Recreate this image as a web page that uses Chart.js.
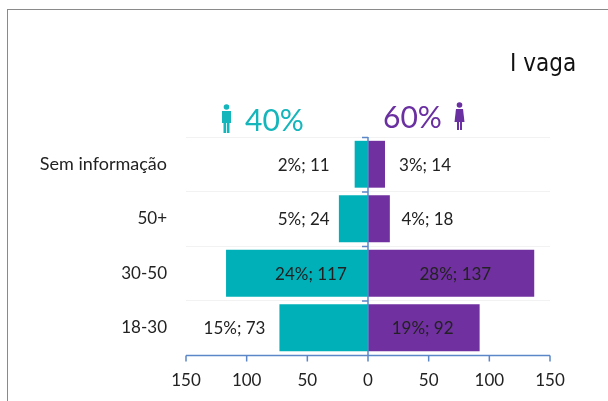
<!DOCTYPE html>
<html>
<head>
<meta charset="utf-8">
<script src="https://cdn.jsdelivr.net/npm/chart.js@4"></script>
<style>
  html, body { margin: 0; padding: 0; background: #fff; }
  #wrap { position: relative; width: 608px; height: 401px; overflow: hidden; }
  #frame { position: absolute; left: 7px; top: 9px; width: 620px; height: 420px; border: 1px solid #8a8a8a; }
  canvas { position: absolute; left: 0; top: 0; }
  .note { position: absolute; white-space: nowrap; line-height: 1; }
</style>
</head>
<body>
<div id="wrap">
  <div id="frame"></div>
  <canvas id="plot" width="608" height="401"></canvas>
  <div class="note" style="left:510px;top:49px;font:24px 'DejaVu Sans Condensed','DejaVu Sans',sans-serif;font-stretch:condensed;color:#111">I vaga</div>
  <div class="note" style="left:245px;top:101px;font:30px Lato,sans-serif;color:#14b5bb">40%</div>
  <div class="note" style="left:383px;top:98px;font:30px Lato,sans-serif;color:#6a2fa0">60%</div>
</div>
<script>
const categories = ["Sem informação", "50+", "30-50", "18-30"];
const menValues = [-11, -24, -117, -73];
const womenValues = [14, 18, 137, 92];
const menLabels = ["2%; 11", "5%; 24", "24%; 117", "15%; 73"];
const womenLabels = ["3%; 14", "4%; 18", "28%; 137", "19%; 92"];
const tickValues = [-150, -100, -50, 0, 50, 100, 150];

// where the text of each bar label is centred, in axis units
const menLabelAt = [-53, -53, -47, -110];
const womenLabelAt = [47, 49, 72, 45];

const TEAL = "#00b0b9";
const PURPLE = "#7030a0";
const AXIS = "#5b86c8";
const FONT = "Lato, sans-serif";

const labelPlugin = {
  id: "barLabels",
  afterDatasetsDraw(chart) {
    const { ctx, scales } = chart;
    ctx.save();
    ctx.font = "17px " + FONT;
    ctx.fillStyle = "#222";
    ctx.textAlign = "center";
    ctx.textBaseline = "middle";
    categories.forEach((c, i) => {
      const y = scales.y.getPixelForValue(i) + 1;
      ctx.fillText(menLabels[i], scales.x.getPixelForValue(menLabelAt[i]), y);
      ctx.fillText(womenLabels[i], scales.x.getPixelForValue(womenLabelAt[i]), y);
    });
    ctx.restore();
  },
};

// the little person icons beside the percentages
const iconPlugin = {
  id: "icons",
  afterDraw(chart) {
    const { ctx } = chart;
    function person(cx, top, color, skirt) {
      ctx.fillStyle = color;
      ctx.beginPath();
      ctx.arc(cx, top + 3, 2.8, 0, Math.PI * 2);
      ctx.fill();
      if (skirt) {
        ctx.beginPath();
        ctx.moveTo(cx - 3.5, top + 7);
        ctx.lineTo(cx + 3.5, top + 7);
        ctx.lineTo(cx + 5, top + 20);
        ctx.lineTo(cx - 5, top + 20);
        ctx.fill();
        ctx.fillRect(cx - 2.5, top + 20, 2, 8);
        ctx.fillRect(cx + 0.5, top + 20, 2, 8);
      } else {
        ctx.fillRect(cx - 4.5, top + 7, 9, 12);
        ctx.fillRect(cx - 3, top + 19, 2.6, 10);
        ctx.fillRect(cx + 0.4, top + 19, 2.6, 10);
      }
    }
    person(226.5, 104, "#14b5bb", false);
    person(459.5, 102, "#6a2fa0", true);
  },
};

// bottom axis with its ticks, and the centre axis with ticks to the left
const axisPlugin = {
  id: "axisLines",
  afterDatasetsDraw(chart) {
    const { ctx, scales } = chart;
    const bottom = scales.y.bottom + 0.5;
    const x0 = scales.x.getPixelForValue(0);
    ctx.save();
    ctx.strokeStyle = AXIS;
    ctx.lineWidth = 1.5;
    ctx.beginPath();
    ctx.moveTo(scales.x.left, bottom);
    ctx.lineTo(scales.x.right, bottom);
    tickValues.forEach((v) => {
      const x = scales.x.getPixelForValue(v);
      ctx.moveTo(x, bottom);
      ctx.lineTo(x, bottom + 6);
    });
    ctx.moveTo(x0, scales.y.top);
    ctx.lineTo(x0, bottom);
    for (let i = 0; i < categories.length; i++) {
      const y = scales.y.top + (scales.y.height * i) / categories.length + 0.5;
      ctx.moveTo(x0 - 6, y);
      ctx.lineTo(x0, y);
    }
    ctx.stroke();
    ctx.restore();
  },
};

new Chart(document.getElementById("plot"), {
  type: "bar",
  data: {
    labels: categories,
    datasets: [
      { label: "Homens", data: menValues, backgroundColor: TEAL, stack: "s" },
      { label: "Mulheres", data: womenValues, backgroundColor: PURPLE, stack: "s" },
    ],
  },
  options: {
    indexAxis: "y",
    responsive: false,
    animation: false,
    barPercentage: 0.86,
    categoryPercentage: 1,
    layout: { padding: { left: 0, right: 58, top: 137, bottom: 0 } },
    plugins: { legend: { display: false }, tooltip: { enabled: false }, title: { display: false } },
    scales: {
      x: {
        stacked: true,
        min: -150,
        max: 150,
        afterBuildTicks(axis) {
          axis.ticks = tickValues.map((v) => ({ value: v }));
        },
        afterFit(axis) {
          axis.height = 46;
        },
        grid: { display: false, drawTicks: false },
        border: { display: false },
        ticks: {
          autoSkip: false,
          maxRotation: 0,
          padding: 15,
          color: "#222",
          font: { family: FONT, size: 17 },
          callback: (v) => Math.abs(v),
        },
      },
      y: {
        stacked: true,
        afterFit(axis) {
          axis.width = 186;
        },
        grid: { color: "#f2f2f2", drawTicks: false, offset: true },
        border: { display: false },
        ticks: {
          padding: 19,
          color: "#222",
          // the long label runs a bit wider than the numeric ones
          font: (c) => ({ family: FONT, size: c.index === 0 ? 18 : 17 }),
        },
      },
    },
  },
  plugins: [labelPlugin, iconPlugin, axisPlugin],
});
</script>
</body>
</html>
